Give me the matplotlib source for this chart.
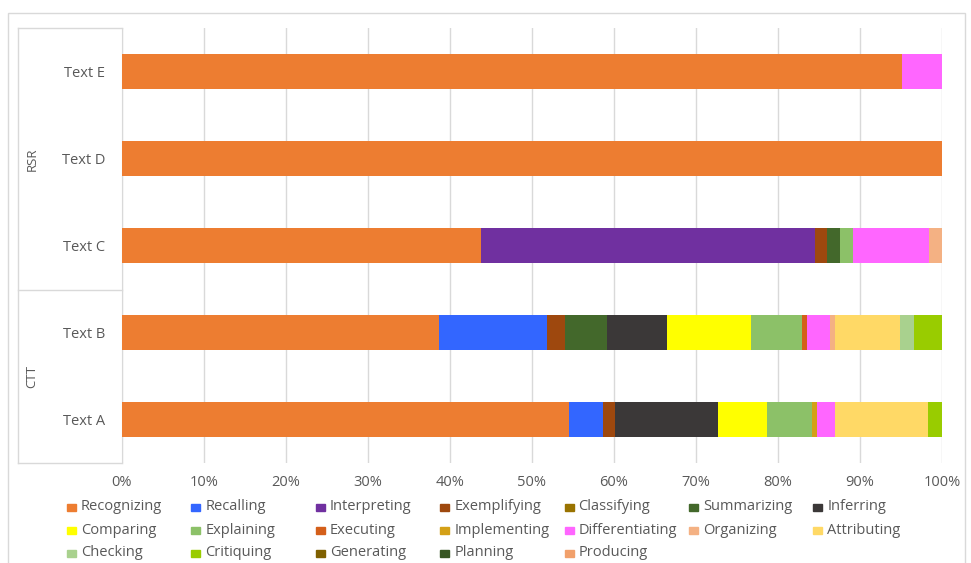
import matplotlib
matplotlib.use("Agg")
import matplotlib.pyplot as plt
from matplotlib.patches import Rectangle
from matplotlib.lines import Line2D
import numpy as np

plt.rcParams['font.family'] = ['Open Sans', 'DejaVu Sans']

texts = ['Text A', 'Text B', 'Text C', 'Text D', 'Text E']
groups = ['CTT', 'RSR']

# share of each process per text, in percent (A, B, C, D, E)
recognizing     = [54.5, 38.6, 43.8, 100.0, 95.1]
recalling       = [4.1, 13.2, 0, 0, 0]
interpreting    = [0, 0, 40.7, 0, 0]
exemplifying    = [1.5, 2.2, 1.5, 0, 0]
classifying     = [0, 0, 0, 0, 0]
summarizing     = [0, 5.1, 1.5, 0, 0]
inferring       = [12.6, 7.4, 0, 0, 0]
comparing       = [6.0, 10.2, 0, 0, 0]
explaining      = [5.5, 6.2, 1.6, 0, 0]
executing       = [0, 0.6, 0, 0, 0]
implementing    = [0.6, 0, 0, 0, 0]
differentiating = [2.1, 2.8, 9.3, 0, 4.9]
organizing      = [0, 0.7, 1.6, 0, 0]
attributing     = [11.4, 7.9, 0, 0, 0]
checking        = [0, 1.7, 0, 0, 0]
critiquing      = [1.7, 3.4, 0, 0, 0]
generating      = [0, 0, 0, 0, 0]
planning        = [0, 0, 0, 0, 0]
producing       = [0, 0, 0, 0, 0]

series = [
    ('Recognizing', recognizing, '#ED7D31'),
    ('Recalling', recalling, '#3366FF'),
    ('Interpreting', interpreting, '#7030A0'),
    ('Exemplifying', exemplifying, '#9E480E'),
    ('Classifying', classifying, '#997300'),
    ('Summarizing', summarizing, '#43682B'),
    ('Inferring', inferring, '#3B3838'),
    ('Comparing', comparing, '#FFFF00'),
    ('Explaining', explaining, '#8CC168'),
    ('Executing', executing, '#D45F1A'),
    ('Implementing', implementing, '#D4A017'),
    ('Differentiating', differentiating, '#FF66FF'),
    ('Organizing', organizing, '#F4B183'),
    ('Attributing', attributing, '#FFD966'),
    ('Checking', checking, '#A9D18E'),
    ('Critiquing', critiquing, '#99CC00'),
    ('Generating', generating, '#7F6000'),
    ('Planning', planning, '#375623'),
    ('Producing', producing, '#F1A06B'),
]

W, H = 971, 563
fig = plt.figure(figsize=(W / 100, H / 100), dpi=100)

def fx(px):
    return px / W

def fy(py):
    return 1 - py / H

grid_c = '#D9D9D9'
txt_c = '#595959'
fs = 10.5

# chart border
fig.patches.append(Rectangle((fx(8), fy(570)), fx(965) - fx(8), fy(13) - fy(570),
                             transform=fig.transFigure, fill=False,
                             edgecolor=grid_c, linewidth=1))

ax = fig.add_axes([fx(122), fy(463), fx(942) - fx(122), fy(28) - fy(463)])

y = np.arange(len(texts))
left = np.zeros(len(texts))
for name, vals, color in series:
    vals = np.array(vals, dtype=float)
    ax.barh(y, vals, left=left, height=0.4, color=color, linewidth=0, zorder=3)
    left += vals

ax.set_xlim(0, 100)
ax.set_ylim(-0.5, len(texts) - 0.5)
ax.set_xticks(np.arange(0, 101, 10))
ax.set_xticklabels([f'{v}%' for v in range(0, 101, 10)])
ax.set_yticks(y)
ax.set_yticklabels(texts)
ax.tick_params(axis='both', length=0, labelsize=fs, labelcolor=txt_c)
ax.tick_params(axis='y', pad=12)
ax.tick_params(axis='x', pad=9)
ax.grid(axis='x', color=grid_c, linewidth=1, zorder=0)
for s in ['top', 'right', 'bottom']:
    ax.spines[s].set_visible(False)
ax.spines['left'].set_color(grid_c)

# group label box on the left
for x0, y0, x1, y1 in [(18, 28, 18, 463), (18, 28, 122, 28),
                       (18, 290, 122, 290), (18, 463, 122, 463)]:
    fig.add_artist(Line2D([fx(x0), fx(x1)], [fy(y0), fy(y1)],
                          transform=fig.transFigure, color=grid_c, linewidth=1))
fig.text(fx(32), fy(159), 'RSR', rotation=90, ha='center', va='center',
         fontsize=9.5, color=txt_c)
fig.text(fx(32), fy(376), 'CTT', rotation=90, ha='center', va='center',
         fontsize=9.5, color=txt_c)

# legend, 7 even columns filled row by row
for i, (name, vals, color) in enumerate(series):
    r, c = divmod(i, 7)
    x = 67 + c * 124.4
    yy = 507 + r * 23
    fig.patches.append(Rectangle((fx(x), fy(yy + 3.5)), fx(9), 7 / H,
                                 transform=fig.transFigure, color=color))
    fig.text(fx(x + 14), fy(yy), name, ha='left', va='center',
             fontsize=fs, color=txt_c)

fig.savefig('out.png', dpi=100)
